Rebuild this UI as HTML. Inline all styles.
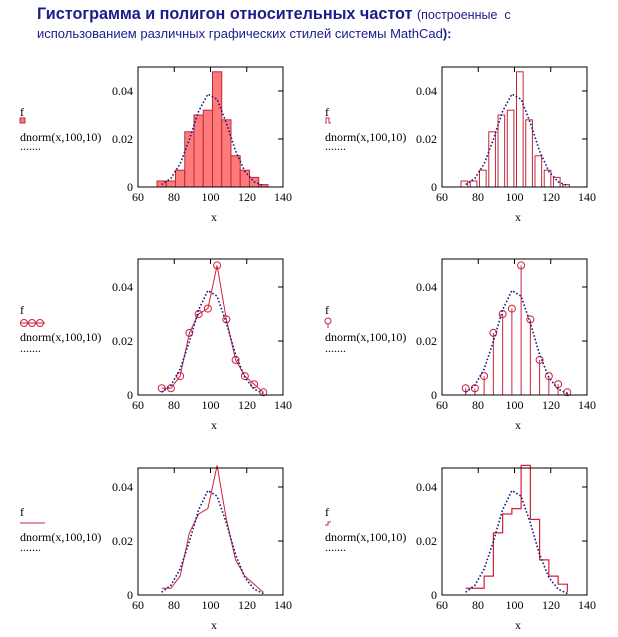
<!DOCTYPE html>
<html><head><meta charset="utf-8"><style>
body{margin:0;background:#fff;width:618px;height:637px;overflow:hidden;position:relative}
.t{position:absolute;left:37px;font-family:"Liberation Sans",sans-serif;color:#1c1c8c;white-space:nowrap}
svg{position:absolute;left:0;top:0}
svg text{font-family:"Liberation Serif",serif;font-size:12px;fill:#000}
</style></head><body>
<div class="t" style="top:5px;font-size:16.2px;font-weight:bold">Гистограмма и полигон относительных частот <span style="font-size:12.5px;font-weight:normal">(построенные &nbsp;с</span></div>
<div class="t" style="top:26px;font-size:13px">использованием различных графических стилей системы MathCad<b>):</b></div>
<svg id="s" width="618" height="637" xmlns="http://www.w3.org/2000/svg">
<g id="labels">
<text x="20" y="116">f</text><text x="20" y="141">dnorm(x,100,10)</text><text x="20" y="150">.......</text>
<text x="325" y="116">f</text><text x="325" y="141">dnorm(x,100,10)</text><text x="325" y="150">.......</text>
<text x="20" y="314">f</text><text x="20" y="341">dnorm(x,100,10)</text><text x="20" y="352">.......</text>
<text x="325" y="314">f</text><text x="325" y="341">dnorm(x,100,10)</text><text x="325" y="352">.......</text>
<text x="20" y="516">f</text><text x="20" y="541">dnorm(x,100,10)</text><text x="20" y="551">.......</text>
<text x="325" y="516">f</text><text x="325" y="541">dnorm(x,100,10)</text><text x="325" y="551">.......</text>
<g text-anchor="end">
<text x="133" y="95">0.04</text><text x="133" y="143">0.02</text><text x="133" y="191">0</text>
<text x="437" y="95">0.04</text><text x="437" y="143">0.02</text><text x="437" y="191">0</text>
<text x="133" y="291">0.04</text><text x="133" y="345">0.02</text><text x="133" y="399">0</text>
<text x="437" y="291">0.04</text><text x="437" y="345">0.02</text><text x="437" y="399">0</text>
<text x="133" y="491">0.04</text><text x="133" y="545">0.02</text><text x="133" y="599">0</text>
<text x="437" y="491">0.04</text><text x="437" y="545">0.02</text><text x="437" y="599">0</text>
</g>
<g text-anchor="middle">
<text x="138" y="201">60</text><text x="174" y="201">80</text><text x="210.5" y="201">100</text><text x="247" y="201">120</text><text x="283" y="201">140</text><text x="214" y="221">x</text>
<text x="442" y="201">60</text><text x="478" y="201">80</text><text x="514.5" y="201">100</text><text x="551" y="201">120</text><text x="587" y="201">140</text><text x="518" y="221">x</text>
<text x="138" y="409">60</text><text x="174" y="409">80</text><text x="210.5" y="409">100</text><text x="247" y="409">120</text><text x="283" y="409">140</text><text x="214" y="429">x</text>
<text x="442" y="409">60</text><text x="478" y="409">80</text><text x="514.5" y="409">100</text><text x="551" y="409">120</text><text x="587" y="409">140</text><text x="518" y="429">x</text>
<text x="138" y="609">60</text><text x="174" y="609">80</text><text x="210.5" y="609">100</text><text x="247" y="609">120</text><text x="283" y="609">140</text><text x="214" y="629">x</text>
<text x="442" y="609">60</text><text x="478" y="609">80</text><text x="514.5" y="609">100</text><text x="551" y="609">120</text><text x="587" y="609">140</text><text x="518" y="629">x</text>
</g></g>
</svg>
<script>
var s=document.getElementById('s'),NS='http://www.w3.org/2000/svg';
function el(t,a){var e=document.createElementNS(NS,t);for(var k in a)e.setAttribute(k,a[k]);s.appendChild(e);return e}
var f=[0.0025,0.0025,0.007,0.023,0.030,0.032,0.048,0.028,0.013,0.007,0.004,0.001];
var w=5.1,e0=70.5,RED='#d0203a';
function pdf(x){return Math.exp(-(x-100)*(x-100)/200)/(10*Math.sqrt(2*Math.PI))}
var rows=[[67,187,2400],[259,395,2700],[468,595,2700]],cols=[138,442];
var types=[['bar','thin'],['poly','stem'],['line','step']];
var legy=[[122],[323],[523]];
for(var r=0;r<3;r++)for(var c=0;c<2;c++){
 var L=cols[c],T=rows[r][0],B=rows[r][1],K=rows[r][2],R=L+145;
 var X=function(x){return L+(x-60)*1.8125},Y=function(v){return B-v*K};
 var ty=types[r][c];
 if(ty=='bar'||ty=='thin'){
  for(var i=0;i<12;i++){var a=X(e0+i*w),b=X(e0+(i+1)*w);if(ty=='thin')b=a+(b-a)*0.72;
   el('rect',{x:a,y:Y(f[i]),width:b-a,height:B-Y(f[i]),fill:ty=='bar'?'#ff7a7a':'none',stroke:'#c02838','stroke-width':1});}
 }
 var mp=[];for(var i=0;i<12;i++)mp.push(e0+w/2+i*w);
 if(ty=='poly'||ty=='line'){var p=mp.map(function(m,i){return X(m)+','+Y(f[i])}).join(' ');
  el('polyline',{points:p,fill:'none',stroke:RED,'stroke-width':1});
  if(ty=='poly')mp.forEach(function(m,i){el('circle',{cx:X(m),cy:Y(f[i]),r:3.5,fill:'none',stroke:RED,'stroke-width':1})});}
 if(ty=='stem'){mp.forEach(function(m,i){el('line',{x1:X(m),y1:B,x2:X(m),y2:Y(f[i]),stroke:RED,'stroke-width':1});el('circle',{cx:X(m),cy:Y(f[i]),r:3.5,fill:'none',stroke:RED,'stroke-width':1})});}
 if(ty=='step'){var d='M'+X(mp[0])+' '+Y(f[0]);for(var i=0;i<11;i++){d+=' H'+X(mp[i+1])+' V'+Y(f[i+1]);}
  el('path',{d:d,fill:'none',stroke:RED,'stroke-width':1.2});}
 var q=mp.map(function(m){return X(m)+','+Y(pdf(m)*0.98)}).join(' ');
 el('polyline',{points:q,fill:'none',stroke:'#1a1a80','stroke-width':1.6,'stroke-dasharray':'1.6 2'});
 el('rect',{x:L,y:T,width:145,height:B-T,fill:'none',stroke:'#000','stroke-width':1});
 [80,100,120].forEach(function(v){el('line',{x1:X(v),y1:T,x2:X(v),y2:T+5,stroke:'#000'})});
 [0.02,0.04].forEach(function(v){el('line',{x1:R,y1:Y(v),x2:R-5,y2:Y(v),stroke:'#000'})});
 var lx=c?325:20,ly=legy[r][0];
 if(ty=='bar')el('rect',{x:lx,y:ly-4,width:5,height:5,fill:'#ff7a7a',stroke:'#c02838'});
 if(ty=='thin')el('path',{d:'M'+lx+' '+(ly+1)+' h1 v-5 h3 v5 h2',fill:'none',stroke:'#c02838'});
 if(ty=='poly'){el('line',{x1:lx,y1:ly,x2:lx+25,y2:ly,stroke:RED});[4,12,20].forEach(function(o){el('circle',{cx:lx+o,cy:ly,r:3.5,fill:'none',stroke:RED})});}
 if(ty=='stem'){el('circle',{cx:lx+3,cy:ly-2,r:3,fill:'none',stroke:RED});el('line',{x1:lx+3,y1:ly+1,x2:lx+3,y2:ly+5,stroke:RED});}
 if(ty=='line')el('line',{x1:lx,y1:ly,x2:lx+25,y2:ly,stroke:RED});
 if(ty=='step')el('path',{d:'M'+lx+' '+(ly+2)+' h3 v-3 h3',fill:'none',stroke:RED});
}
</script>
</body></html>
